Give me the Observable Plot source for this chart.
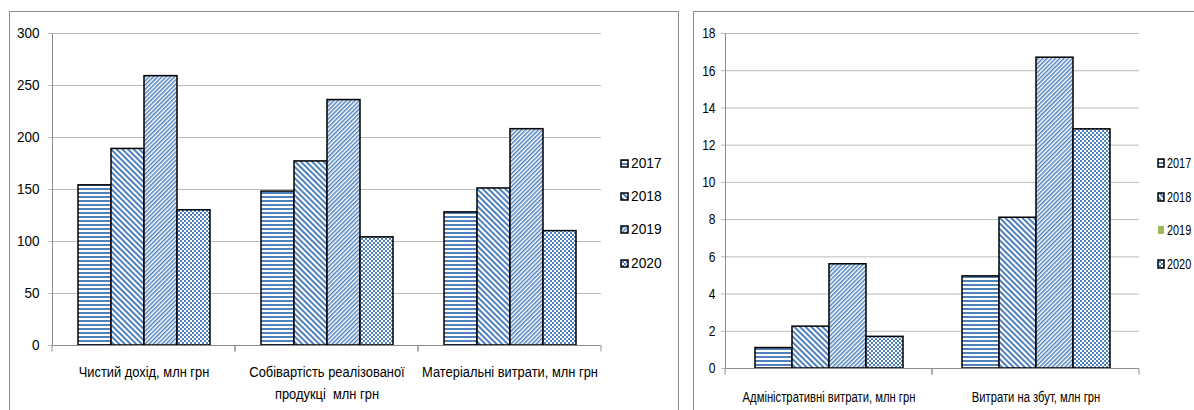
<!DOCTYPE html>
<html><head><meta charset="utf-8">
<script src="https://cdn.jsdelivr.net/npm/d3@7"></script>
<script src="https://cdn.jsdelivr.net/npm/@observablehq/plot@0.6"></script>
<style>
html,body{margin:0;padding:0;background:#fff;width:1194px;height:410px;overflow:hidden;}
body{position:relative;font-family:"Liberation Sans",Arial,sans-serif;}
.panel{position:absolute;border:1px solid #8c8c8c;box-sizing:border-box;pointer-events:none;}
#p1{left:9px;top:11px;width:670px;height:430px;}
#p2{left:693px;top:11px;width:540px;height:430px;}
.chart{position:absolute;top:0;}
#c1{left:0}
#c2{left:680px}
svg text{white-space:pre;}
.legend{position:absolute;color:#000;}
.legend .item{position:absolute;left:0;height:18px;line-height:18px;display:flex;align-items:center;white-space:nowrap;}
.legend .item svg{display:block;margin-right:2px;}
.legend .item span{display:inline-block;transform-origin:left center;}
</style>
</head>
<body>
<svg width="0" height="0" style="position:absolute">
<defs>
<pattern id="p2017" patternUnits="userSpaceOnUse" width="8" height="4"><rect width="8" height="4" fill="#fff"/><rect width="8" height="2" fill="#4F81BD"/></pattern>
<pattern id="p2018" patternUnits="userSpaceOnUse" width="4" height="4" patternTransform="rotate(-45)"><rect width="4" height="4" fill="#fff"/><rect width="2" height="4" fill="#4F81BD"/></pattern>
<pattern id="p2019" patternUnits="userSpaceOnUse" width="3" height="3" patternTransform="rotate(45)"><rect width="3" height="3" fill="#fff"/><rect width="1.5" height="3" fill="#4F81BD"/></pattern>
<pattern id="p2020" patternUnits="userSpaceOnUse" width="4" height="4"><rect width="4" height="4" fill="#fff"/><rect width="2" height="2" fill="#4F81BD"/><rect x="2" y="2" width="2" height="2" fill="#4F81BD"/></pattern>
</defs>
</svg>
<div id="c1" class="chart"></div>
<div id="c2" class="chart"></div>
<div id="p1" class="panel"></div>
<div id="p2" class="panel"></div>
<div id="l1" class="legend" style="left:620px;top:0;font-size:14.5px"></div>
<div id="l2" class="legend" style="left:1157px;top:0;font-size:14.5px"></div>
<script>
// ---- data ----
const years = ["2017", "2018", "2019", "2020"];

const leftCategories = ["Чистий дохід, млн грн", "Собівартість реалізованої продукці  млн грн", "Матеріальні витрати, млн грн"];
const leftTickLabels = ["Чистий дохід, млн грн", "Собівартість реалізованої\nпродукці  млн грн", "Матеріальні витрати, млн грн"];
const left2017 = [154, 148, 128];
const left2018 = [189, 177, 151];
const left2019 = [259, 236, 208];
const left2020 = [130, 104, 110];
const leftTicks = [0, 50, 100, 150, 200, 250, 300];

const rightCategories = ["Адміністративні витрати, млн грн", "Витрати на збут, млн грн"];
const rightTickLabels = ["Адміністративні витрати, млн грн", "Витрати на збут, млн грн"];
const right2017 = [1.1, 4.95];
const right2018 = [2.25, 8.1];
const right2019 = [5.6, 16.7];
const right2020 = [1.7, 12.85];
const rightTicks = [0, 2, 4, 6, 8, 10, 12, 14, 16, 18];

// ---- styles ----
const patternFills = ["url(#p2017)", "url(#p2018)", "url(#p2019)", "url(#p2020)"];
const rightLegendFills = ["url(#p2017)", "url(#p2018)", "#9BBB59", "url(#p2020)"];
const axisGray = "#8e8e8e";
const gridGray = "#bcbcbc";
const FONT = '"Liberation Sans",Arial,sans-serif';

function toRows(categories, series) {
  const rows = [];
  categories.forEach((c, i) => years.forEach((y, j) => rows.push({cat: c, year: y, value: series[j][i]})));
  return rows;
}

function baseline(tickLen) {
  return Plot.ruleY([0], {
    stroke: axisGray,
    render(index, scales, values, dimensions, context, next) {
      const g = next(index, scales, values, dimensions, context);
      const r = typeof scales.x.range === "function" ? scales.x.range() : scales.scales.x.range;
      const y0 = scales.y(0);
      for (const x of [r[0], r[r.length - 1]]) {
        const l = document.createElementNS("http://www.w3.org/2000/svg", "line");
        l.setAttribute("x1", x); l.setAttribute("x2", x);
        l.setAttribute("y1", y0); l.setAttribute("y2", y0 + tickLen);
        l.setAttribute("stroke", axisGray);
        g.appendChild(l);
      }
      return g;
    }
  });
}

// horizontally condense text (keeps it real text)
function squeeze(svg, sxCat, sxY) {
  svg.querySelectorAll("text").forEach(t => {
    const g = t.closest("g[aria-label]");
    const lab = g ? g.getAttribute("aria-label") : "";
    const sx = lab.includes("fx") ? sxCat : sxY;
    let tr = t.getAttribute("transform") || "";
    const x = t.getAttribute("x"), y = t.getAttribute("y");
    const nx = x == null ? 0 : +x, ny = y == null ? 0 : +y;
    if (!isNaN(nx) && !isNaN(ny) && (x != null || y != null)) {
      tr += ` translate(${nx},${ny})`;
      t.removeAttribute("x"); t.removeAttribute("y");
    }
    t.setAttribute("transform", tr + ` scale(${sx},1)`);
  });
}

function makeChart({categories, tickLabels, series, ticks, width, height, marginLeft, marginRight, marginTop, marginBottom, tickPadding, fxPadding, fontSize, lineHeight}) {
  const rows = toRows(categories, series);
  return Plot.plot({
    width, height, marginLeft, marginRight, marginTop, marginBottom,
    style: {background: "none", fontFamily: FONT, fontSize: fontSize + "px", color: "#000"},
    fx: {domain: categories, padding: 0},
    x: {domain: years, paddingInner: 0, paddingOuter: 0.75, axis: null},
    y: {domain: [ticks[0], ticks[ticks.length - 1]]},
    color: {type: "ordinal", domain: years, range: patternFills},
    marks: [
      Plot.gridY(ticks, {stroke: gridGray, strokeOpacity: 1}),
      Plot.frame({anchor: "left", stroke: axisGray, facetAnchor: "left"}),
      Plot.axisY(ticks, {tickSize: 4, tickPadding, stroke: gridGray, fill: "#000", fontSize, label: null}),
      Plot.barY(rows, {fx: "cat", x: "year", y: "value", fill: "year", stroke: "#000", strokeWidth: 1.5}),
      baseline(6),
      Plot.axisFx({anchor: "bottom", tickSize: 0, tickPadding: fxPadding, fontSize, lineHeight, label: null, fill: "#000",
        tickFormat: d => tickLabels[categories.indexOf(d)]})
    ]
  });
}

const svg1 = makeChart({
  categories: leftCategories, tickLabels: leftTickLabels,
  series: [left2017, left2018, left2019, left2020], ticks: leftTicks,
  width: 620, height: 410, marginLeft: 52, marginRight: 19, marginTop: 33, marginBottom: 65,
  tickPadding: 9, fxPadding: 16, fontSize: 15, lineHeight: 1.45
});
document.getElementById("c1").append(svg1);
squeeze(svg1, 0.86, 0.9);

const svg2 = makeChart({
  categories: rightCategories, tickLabels: rightTickLabels,
  series: [right2017, right2018, right2019, right2020], ticks: rightTicks,
  width: 480, height: 410, marginLeft: 44, marginRight: 21, marginTop: 33, marginBottom: 42,
  tickPadding: 6, fxPadding: 18, fontSize: 15, lineHeight: 1.5
});
document.getElementById("c2").append(svg2);
squeeze(svg2, 0.75, 0.8);

function legend(el, fills, centers, sw, sh, borders, sx) {
  years.forEach((y, i) => {
    const item = document.createElement("div");
    item.className = "item";
    item.style.top = (centers[i] - 9) + "px";
    const ns = "http://www.w3.org/2000/svg";
    const s = document.createElementNS(ns, "svg");
    s.setAttribute("width", sw + 2); s.setAttribute("height", sh + 2);
    const r = document.createElementNS(ns, "rect");
    r.setAttribute("x", 1); r.setAttribute("y", 1);
    r.setAttribute("width", sw); r.setAttribute("height", sh);
    r.setAttribute("fill", fills[i]);
    if (borders[i]) { r.setAttribute("stroke", "#000"); r.setAttribute("stroke-width", 1.5); }
    s.append(r);
    item.append(s);
    const t = document.createElement("span");
    t.textContent = y;
    t.style.transform = `scaleX(${sx})`;
    item.append(t);
    el.append(item);
  });
}
legend(document.getElementById("l1"), patternFills, [163, 196, 229, 263], 7, 7, [true, true, true, true], 0.95);
legend(document.getElementById("l2"), rightLegendFills, [163, 197, 230, 264], 6, 8, [true, true, false, true], 0.75);
</script>
</body></html>
